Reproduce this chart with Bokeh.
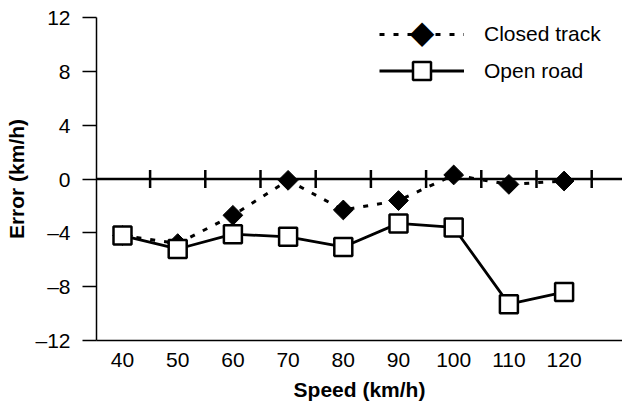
from bokeh.plotting import figure
from bokeh.models import Range1d, FixedTicker, Legend, LegendItem, Span, Label
from bokeh.embed import file_html
from bokeh.resources import INLINE
import math

# ---- data ----
speeds = [40, 50, 60, 70, 80, 90, 100, 110, 120]
closed_track = [-4.2, -4.8, -2.7, -0.1, -2.3, -1.6, 0.3, -0.4, -0.15]
open_road = [-4.2, -5.2, -4.1, -4.3, -5.05, -3.3, -3.6, -9.3, -8.4]
y_ticks = [-12, -8, -4, 0, 4, 8, 12]
y_tick_labels = ["\u201312", "\u20138", "\u20134", "0", "4", "8", "12"]
x_tick_labels = ["40", "50", "60", "70", "80", "90", "100", "110", "120"]
zero_line_ticks = [45, 55, 65, 75, 85, 95, 105, 115, 125]

FONT = "Liberation Sans"
FS = "21px"

p = figure(
    frame_width=526, frame_height=323,
    min_border_left=96, min_border_right=0, min_border_top=17, min_border_bottom=53,
    x_range=Range1d(35.29, 130.58), y_range=Range1d(-12, 12),
    output_backend="svg", toolbar_location=None,
)
p.outline_line_color = None
p.background_fill_color = "white"
p.border_fill_color = "white"
p.xgrid.visible = False
p.ygrid.visible = False

# axes
p.yaxis.ticker = FixedTicker(ticks=y_ticks)
p.yaxis.major_label_overrides = {t: l for t, l in zip(y_ticks, y_tick_labels)}
p.yaxis.major_tick_out = 14
p.yaxis.major_tick_in = 0
p.yaxis.minor_tick_out = 0
p.yaxis.minor_tick_in = 0
p.yaxis.major_label_standoff = 12
p.yaxis.axis_label = "Error (km/h)"
p.yaxis.axis_label_standoff = 4

p.xaxis.ticker = FixedTicker(ticks=speeds)
p.xaxis.major_label_overrides = {t: l for t, l in zip(speeds, x_tick_labels)}
p.xaxis.major_tick_out = 0
p.xaxis.major_tick_in = 0
p.xaxis.minor_tick_out = 0
p.xaxis.minor_tick_in = 0
p.xaxis.major_label_standoff = 12
p.xaxis.axis_label = "Speed (km/h)"
p.xaxis.axis_label_standoff = 8

for ax in (p.xaxis[0], p.yaxis[0]):
    ax.axis_line_color = "black"
    ax.axis_line_width = 1.5
    ax.major_tick_line_color = "black"
    ax.major_tick_line_width = 1.5
    ax.major_label_text_font = FONT
    ax.major_label_text_font_size = FS
    ax.major_label_text_color = "black"
    ax.axis_label_text_font = FONT
    ax.axis_label_text_font_size = FS
    ax.axis_label_text_font_style = "bold"
    ax.axis_label_text_color = "black"

# zero line with crossing ticks
p.add_layout(Span(location=0, dimension="width", line_color="black", line_width=2.5))
p.segment(x0=zero_line_ticks, y0=[-0.67] * len(zero_line_ticks),
          x1=zero_line_ticks, y1=[0.67] * len(zero_line_ticks),
          line_color="black", line_width=2.5)

# closed track
cl = p.line(speeds, closed_track, line_color="black", line_width=3, line_dash="5 9")
cs = p.scatter(speeds, closed_track, marker="square", angle=math.pi / 4, size=14,
               fill_color="black", line_color="black")

# open road
ol = p.line(speeds, open_road, line_color="black", line_width=2.8)
osq = p.scatter(speeds, open_road, marker="square", size=18, fill_color="white",
                line_color="black", line_width=2.5)

common = dict(glyph_width=85, padding=0, margin=0, spacing=0,
              label_standoff=20, label_text_font=FONT, label_text_font_size=FS,
              label_text_color="black", border_line_color=None,
              background_fill_alpha=0)

legend_closed = Legend(
    items=[LegendItem(label="Closed track", renderers=[cl])],
    location=(283, 341 - 35 - 25), glyph_height=50, **common)
legend_open = Legend(
    items=[LegendItem(label="Open road", renderers=[ol, osq])],
    location=(283, 341 - 72 - 22), glyph_height=45, **common)
p.add_layout(legend_closed, "center")
p.add_layout(legend_open, "center")

# legend swatch diamond (the legend draws markers without their rotation)
p.add_layout(Label(x=325.5, y=309, x_units="screen", y_units="screen", text="\u25c6",
                   text_font="DejaVu Sans", text_font_size="32px", text_color="black",
                   text_align="center", text_baseline="middle"))

open("out.html", "w").write(file_html(p, INLINE))
